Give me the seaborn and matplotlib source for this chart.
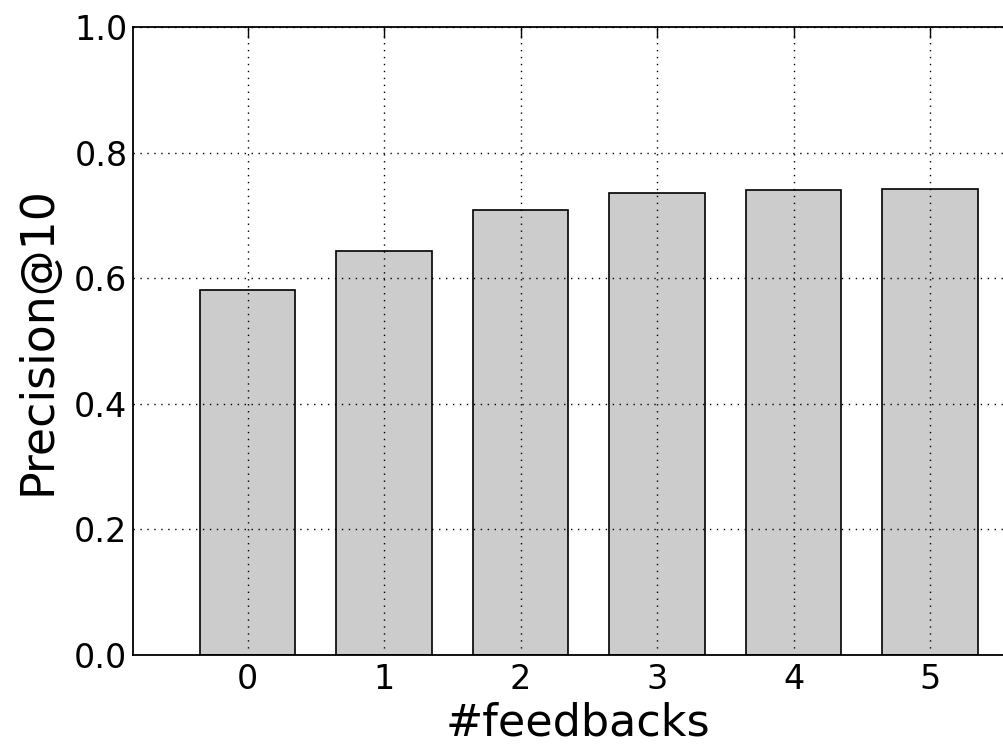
import matplotlib
matplotlib.use('Agg')
import matplotlib.pyplot as plt
import seaborn as sns

feedbacks = ['0', '1', '2', '3', '4', '5']
precision = [0.581, 0.643, 0.709, 0.735, 0.741, 0.742]

sns.set_style('white')
plt.rcParams['font.family'] = ['DejaVu Sans']
plt.rcParams['text.color'] = 'black'
plt.rcParams['axes.labelcolor'] = 'black'

fig = plt.figure(figsize=(10.04, 7.44), dpi=100)
ax = fig.add_axes([133 / 1004, 89 / 744, 890 / 1004, 628 / 744])

sns.barplot(x=feedbacks, y=precision, color='#cccccc', saturation=1,
            edgecolor='black', linewidth=1.2, width=0.7, ax=ax)

ax.set_xlim(-0.84, 5.68)
ax.set_ylim(0, 1.0)
ax.set_yticks([0.0, 0.2, 0.4, 0.6, 0.8, 1.0])
ax.set_yticklabels(['0.0', '0.2', '0.4', '0.6', '0.8', '1.0'])

ax.grid(True, color='black', linestyle=(0, (1, 4)), linewidth=1)
ax.set_axisbelow(False)

for s in ax.spines.values():
    s.set_color('black')
    s.set_linewidth(1.3)

ax.tick_params(direction='in', length=8, width=1, top=True, right=True,
               labelsize=24, colors='black')
ax.tick_params(axis='y', pad=4)
ax.tick_params(axis='x', pad=6)
ax.set_xlabel('#feedbacks', fontsize=32, labelpad=4)
ax.set_ylabel('Precision@10', fontsize=33, labelpad=10)

fig.savefig('out.png', dpi=100)
